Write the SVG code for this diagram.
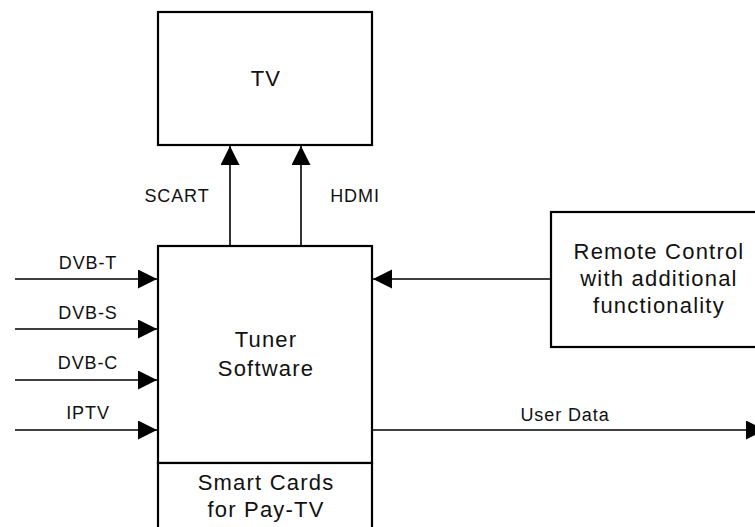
<svg xmlns="http://www.w3.org/2000/svg" width="755" height="527" viewBox="0 0 755 527">
  <style>
    .box { fill: #ffffff; stroke: #000000; stroke-width: 2.2; }
    .conn { fill: none; stroke: #000000; stroke-width: 1.6; }
    .big { font-family: "Liberation Sans", Arial, Helvetica, sans-serif; font-size: 22px; letter-spacing: 1.2px; fill: #111111; text-anchor: middle; }
    .small { font-family: "Liberation Sans", Arial, Helvetica, sans-serif; font-size: 18px; letter-spacing: 0.9px; fill: #111111; text-anchor: middle; }
  </style>
  <defs>
    <marker id="arrow" markerUnits="userSpaceOnUse" markerWidth="20" markerHeight="20" refX="19" refY="9.5" orient="auto">
      <path d="M0,0 L19,9.5 L0,19 Z" fill="#000000"/>
    </marker>
  </defs>
  <rect width="755" height="527" fill="#ffffff"/>

  <g id="tv">
    <rect class="box" x="158" y="12" width="214" height="133"/>
    <text class="big" x="266" y="86">TV</text>
  </g>

  <g id="tuner">
    <rect class="box" x="158" y="246" width="214" height="217"/>
    <text class="big" x="266" y="347">Tuner</text>
    <text class="big" x="266" y="376">Software</text>
  </g>

  <g id="smartcards">
    <rect class="box" x="158" y="463" width="214" height="90"/>
    <text class="big" x="266" y="490">Smart Cards</text>
    <text class="big" x="266" y="517">for Pay-TV</text>
  </g>

  <g id="remote">
    <rect class="box" x="551" y="212" width="215" height="135"/>
    <text class="big" x="659" y="259">Remote Control</text>
    <text class="big" x="659" y="286">with additional</text>
    <text class="big" x="659" y="313">functionality</text>
  </g>

  <g id="connectors">
    <line class="conn" x1="230" y1="246" x2="230" y2="146" marker-end="url(#arrow)"/>
    <line class="conn" x1="301" y1="246" x2="301" y2="146" marker-end="url(#arrow)"/>
    <text class="small" x="177" y="202">SCART</text>
    <text class="small" x="355" y="202">HDMI</text>

    <line class="conn" x1="15" y1="279" x2="157" y2="279" marker-end="url(#arrow)"/>
    <line class="conn" x1="15" y1="329" x2="157" y2="329" marker-end="url(#arrow)"/>
    <line class="conn" x1="15" y1="380" x2="157" y2="380" marker-end="url(#arrow)"/>
    <line class="conn" x1="15" y1="430" x2="157" y2="430" marker-end="url(#arrow)"/>
    <text class="small" x="88" y="269">DVB-T</text>
    <text class="small" x="88" y="319">DVB-S</text>
    <text class="small" x="88" y="369">DVB-C</text>
    <text class="small" x="88" y="419">IPTV</text>

    <line class="conn" x1="551" y1="279" x2="373" y2="279" marker-end="url(#arrow)"/>

    <line class="conn" x1="373" y1="430" x2="765" y2="430" marker-end="url(#arrow)"/>
    <text class="small" x="565" y="421">User Data</text>
  </g>
</svg>
